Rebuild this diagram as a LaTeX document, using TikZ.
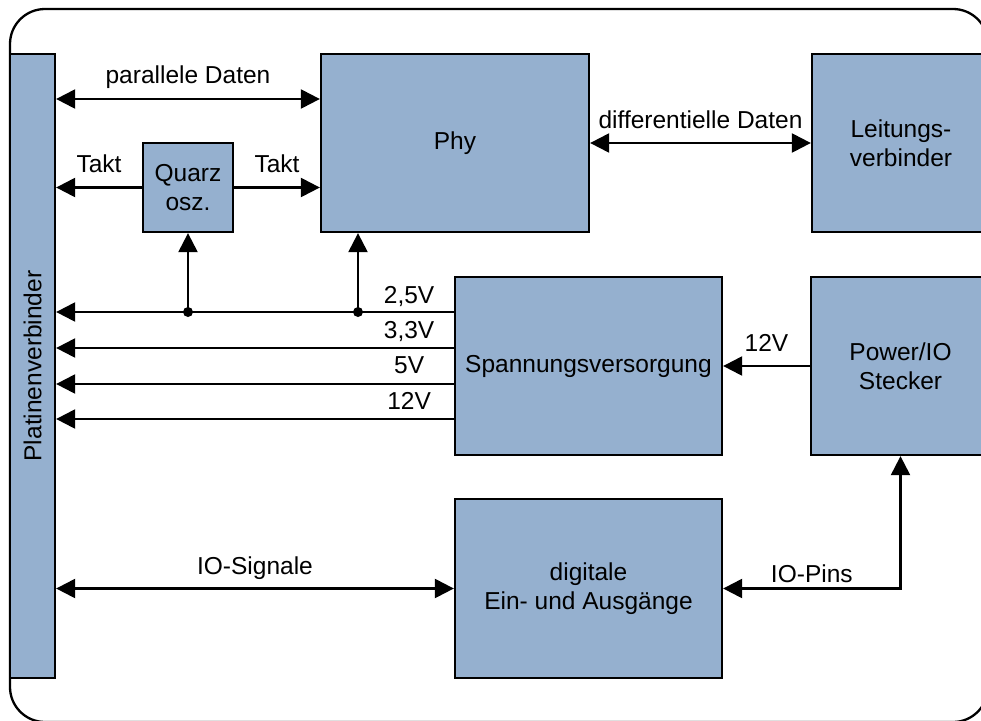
\documentclass[tikz,border=0pt]{standalone}
\usepackage{fontspec}
\setmainfont{Liberation Sans}
\usetikzlibrary{arrows.meta}
\definecolor{boxblue}{RGB}{149,176,207}
\begin{document}
\begin{tikzpicture}[x=1pt,y=-1pt,
  txt/.style={font=\fontsize{24.5}{29}\selectfont},
  box/.style={draw=black, line width=2.3pt, fill=boxblue, inner sep=0pt, align=center, txt},
  conn/.style={draw=black, line width=2.3pt},
  arrLR/.style={conn, {Triangle[length=19pt,width=19pt]}-{Triangle[length=19pt,width=19pt]}},
  arrR/.style={conn, -{Triangle[length=19pt,width=19pt]}},
  lbl/.style={txt, anchor=base, inner sep=0pt},
  jdot/.style={circle, fill=black, inner sep=0pt, minimum size=10pt}
]
\useasboundingbox (0,0) rectangle (981,720);
\clip (0,0) rectangle (981,720);
\draw[line width=2.3pt, rounded corners=35pt] (10,9) rectangle (988,722);

% blocks
\node[box, minimum width=45, minimum height=624] (plat) at (32.5,366) {};
\node[txt, rotate=90] at (plat.center) {Platinenverbinder};
\node[box, minimum width=268, minimum height=178] (phy) at (455,143) {Phy};
\node[box, minimum width=178, minimum height=178] (leit) at (901,143) {Leitungs-\\verbinder};
\node[box, minimum width=90, minimum height=89] (quarz) at (188,187.5) {Quarz\\osz.};
\node[box, minimum width=267, minimum height=178] (spann) at (588.5,366) {Spannungsversorgung};
\node[box, minimum width=179, minimum height=178] (power) at (900.5,366) {Power/IO\\Stecker};
\node[box, minimum width=267, minimum height=179] (dig) at (588.5,588.5) {digitale\\Ein- und Ausgänge};

% data and clock
\draw[arrLR] (plat.east |- 0,99) -- node[lbl, midway, yshift=16pt] {parallele Daten} (phy.west |- 0,99);
\draw[arrR] (quarz.west) -- node[lbl, midway, yshift=15pt] {Takt} (plat.east |- quarz.west);
\draw[arrR] (quarz.east) -- node[lbl, midway, yshift=15pt] {Takt} (phy.west |- quarz.east);
\draw[arrLR] (phy.east) -- node[lbl, midway, yshift=15pt] {differentielle Daten} (leit.west);

% supply lines
\draw[arrR] (spann.west |- 0,312) -- node[lbl, pos=0.1125, yshift=9pt] {2,5V} (plat.east |- 0,312);
\draw[arrR] (spann.west |- 0,348) -- node[lbl, pos=0.1125, yshift=10pt] {3,3V} (plat.east |- 0,348);
\draw[arrR] (spann.west |- 0,384) -- node[lbl, pos=0.1125, yshift=11pt] {5V} (plat.east |- 0,384);
\draw[arrR] (spann.west |- 0,419) -- node[lbl, pos=0.1125, yshift=10pt] {12V} (plat.east |- 0,419);
\node[jdot] (j1) at (quarz.south |- 0,312) {};
\node[jdot] (j2) at (358,312) {};
\draw[arrR] (j1.center) -- (quarz.south);
\draw[arrR] (j2.center) -- (phy.south -| j2);
\draw[arrR] (power.west) -- node[lbl, midway, yshift=15pt] {12V} (spann.east);

% IO
\draw[arrLR] (plat.east |- dig.west) -- node[lbl, midway, yshift=14pt] {IO-Signale} (dig.west);
\draw[arrLR] (power.south) |- node[lbl, pos=0.75, yshift=6pt] {IO-Pins} (dig.east);
\end{tikzpicture}
\end{document}
